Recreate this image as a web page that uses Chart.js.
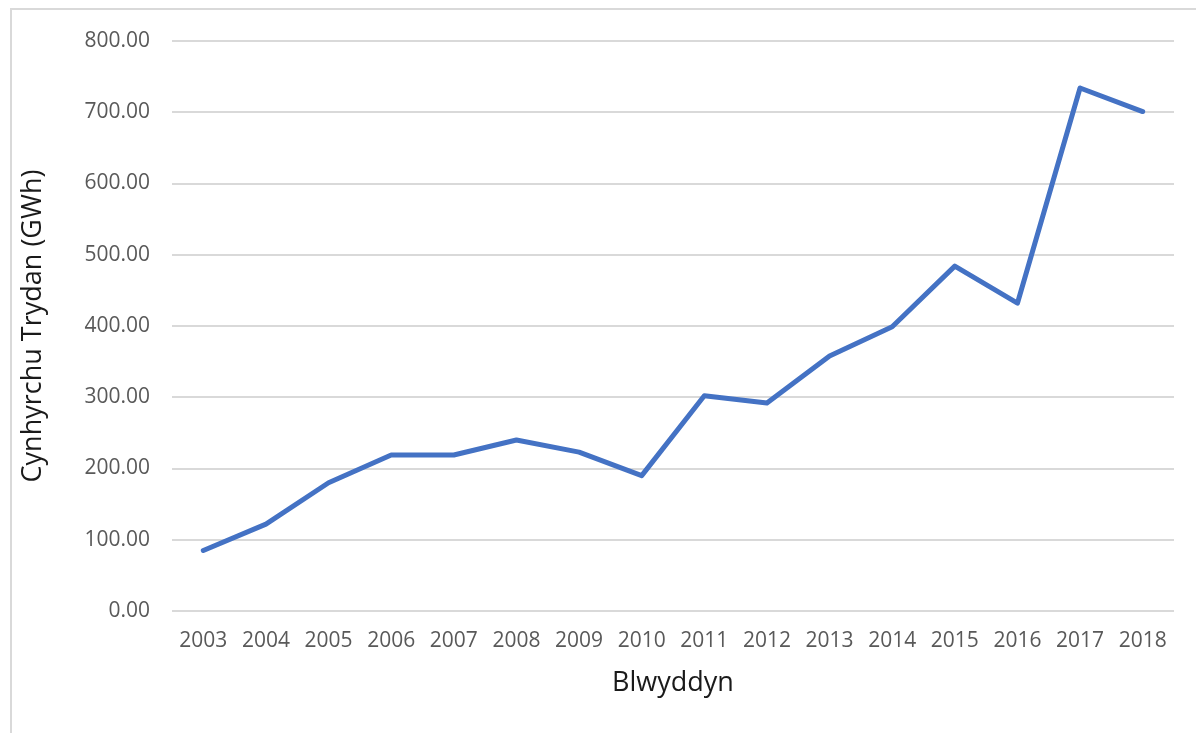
<!DOCTYPE html>
<html><head><meta charset="utf-8">
<script src="https://cdn.jsdelivr.net/npm/chart.js@4/dist/chart.umd.min.js"></script>
<style>
html,body{margin:0;padding:0;background:#fff;overflow:hidden}
#wrap{position:relative;width:1196px;height:733px}
#frame{position:absolute;left:10px;top:8px;width:1200px;height:740px;border:2px solid #d9d9d9;box-sizing:border-box;pointer-events:none}
canvas{position:absolute;left:0;top:0}
</style></head>
<body><div id="wrap"><canvas id="c" width="1196" height="733"></canvas><div id="frame"></div></div>
<script>
const years = ["2003","2004","2005","2006","2007","2008","2009","2010","2011","2012","2013","2014","2015","2016","2017","2018"];
const generation = [85, 122, 180, 219, 219, 240, 223, 190, 302, 292, 358, 399, 484, 432, 734, 701];
const yTicks = [0, 100, 200, 300, 400, 500, 600, 700, 800];
const xTitle = "Blwyddyn";
const yTitle = "Cynhyrchu Trydan (GWh)";

const FONT = "'Open Sans', sans-serif";
new Chart(document.getElementById('c'), {
  type: 'line',
  data: { labels: years, datasets: [{
    data: generation,
    borderColor: '#4472C4',
    borderWidth: 5,
    pointRadius: 0,
    borderCapStyle: 'round',
    borderJoinStyle: 'round',
    tension: 0,
    fill: false
  }]},
  options: {
    responsive: false,
    animation: false,
    layout: { padding: { left: 10, top: 41, right: 22, bottom: 0 } },
    plugins: { legend: { display: false }, tooltip: { enabled: false } },
    scales: {
      x: {
        offset: true,
        grid: { display: false, drawTicks: false },
        border: { display: false },
        ticks: { color: '#595959', font: { family: FONT, size: 21 }, padding: 17, maxRotation: 0, autoSkip: false },
        title: { display: true, text: xTitle, color: '#1a1a1a', font: { family: FONT, size: 27 }, padding: { top: 4, bottom: 33 } },
        afterFit: s => { s.height = 122; }
      },
      y: {
        min: 0, max: 800,
        afterBuildTicks: s => { s.ticks = yTicks.map(v => ({ value: v })); },
        grid: { color: '#d9d9d9', lineWidth: 2, drawTicks: false },
        border: { display: false },
        ticks: { color: '#595959', font: { family: FONT, size: 21 }, padding: 22, callback: v => Number(v).toFixed(2) },
        title: { display: true, text: yTitle, color: '#1a1a1a', font: { family: FONT, size: 27 }, padding: { top: 7, bottom: 0 } },
        afterFit: s => { s.width = 162; }
      }
    }
  }
});
</script></body></html>
